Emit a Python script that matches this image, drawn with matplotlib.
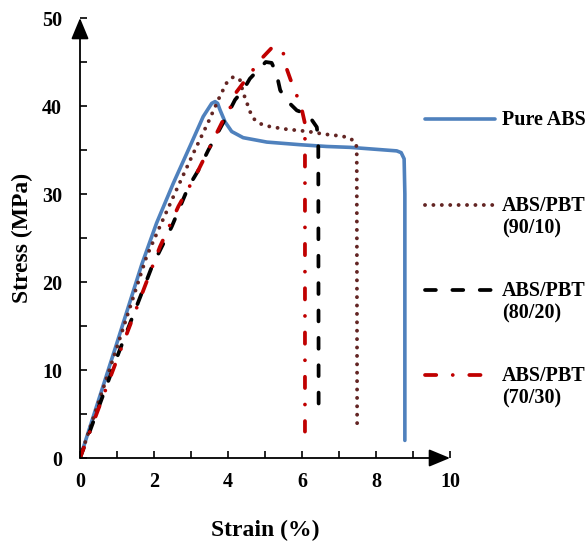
import matplotlib
matplotlib.use("Agg")
import matplotlib.pyplot as plt
from matplotlib.ticker import MultipleLocator

plt.rcParams['font.family'] = ['Liberation Serif', 'DejaVu Serif']
plt.rcParams['font.weight'] = 'bold'

# Tensile curves: strain (%) vs stress (MPa)
strain_abs = [0, 1.0, 1.67, 2.07, 2.52, 2.97, 3.33, 3.56, 3.65, 3.72, 3.78, 3.85, 3.92,
              4.1, 4.41, 5.05, 5.95, 6.67, 7.3, 8.56, 8.68, 8.76, 8.78, 8.78]
stress_abs = [0, 13.1, 22.0, 26.7, 31.2, 35.4, 38.8, 40.3, 40.5, 40.3, 39.6, 38.9, 38.2,
              37.1, 36.4, 35.9, 35.6, 35.4, 35.3, 34.9, 34.7, 34.0, 30.0, 2.0]

strain_9010 = [0, 1.0, 1.8, 2.2, 2.61, 3.06, 3.47, 3.78, 3.96, 4.14, 4.32, 4.41, 4.5, 4.58,
               4.68, 4.86, 5.09, 5.5, 5.95, 6.17, 6.6, 7.03, 7.28, 7.46, 7.48, 7.49]
stress_9010 = [0, 12.6, 22.9, 26.7, 30.5, 34.6, 38.2, 41.1, 42.6, 43.3, 43.0, 41.5, 40.5, 39.5,
               38.6, 38.0, 37.7, 37.4, 37.2, 37.1, 36.8, 36.6, 36.4, 35.8, 35.0, 3.9]

strain_8020 = [0, 1.04, 1.94, 2.48, 2.93, 3.2, 3.47, 3.96, 4.19, 4.41, 4.59, 4.86, 5.02,
               5.18, 5.31, 5.41, 5.57, 5.86, 6.17, 6.4, 6.44, 6.45]
stress_8020 = [0, 11.9, 21.7, 26.3, 30.8, 32.7, 35.0, 38.8, 40.7, 41.8, 43.1, 44.3, 45.0,
               44.9, 43.7, 41.8, 40.7, 39.5, 39.0, 37.6, 36.1, 4.7]

strain_7030 = [0, 1.0, 2.16, 2.66, 3.15, 3.74, 3.87, 4.05, 4.23, 4.41, 4.64, 4.91, 5.18, 5.3,
               5.49, 5.58, 5.69, 5.85, 5.99, 6.08, 6.08]
stress_7030 = [0, 11.2, 24.0, 28.6, 32.3, 37.3, 38.4, 39.7, 41.6, 42.6, 43.9, 45.4, 46.6, 46.8,
               46.1, 44.3, 43.0, 41.3, 39.7, 38.0, 3.0]

labels = ['Pure ABS', 'ABS/PBT\n(90/10)', 'ABS/PBT\n(80/20)', 'ABS/PBT\n(70/30)']

styles = [
    dict(color='#4F81BD', lw=2.6, solid_capstyle='round'),
    dict(color='#632523', lw=2.8, linestyle=(0, (0.01, 2.15)), dash_capstyle='round'),
    dict(color='#000000', lw=2.7, linestyle=(0, (2.9, 4.4)), dash_capstyle='round'),
    dict(color='#C00000', lw=2.7, linestyle=(0, (3.0, 4.4, 0.01, 4.4)), dash_capstyle='round'),
]

fig = plt.figure(figsize=(5.88, 5.41), dpi=100)
ax = fig.add_axes([80 / 588, 83 / 541, 370 / 588, 440 / 541])

series = [(strain_abs, stress_abs), (strain_9010, stress_9010),
          (strain_8020, stress_8020), (strain_7030, stress_7030)]
for (xs, ys), st in zip(series, styles):
    ax.plot(xs, ys, solid_joinstyle='round', **st)

ax.set_xlim(0, 10)
ax.set_ylim(0, 50)
ax.xaxis.set_major_locator(MultipleLocator(2))
ax.xaxis.set_minor_locator(MultipleLocator(1))
ax.yaxis.set_major_locator(MultipleLocator(10))
ax.yaxis.set_minor_locator(MultipleLocator(5))
ax.tick_params(which='both', direction='in', length=5, width=1.2, color='black')
ax.tick_params(axis='x', pad=10, labelsize=14.5)
ax.tick_params(axis='y', pad=13, labelsize=14.5)
for t in ax.get_xticklabels() + ax.get_yticklabels():
    t.set_fontweight('bold')

for s in ['top', 'right', 'bottom', 'left']:
    ax.spines[s].set_visible(False)

# axis lines with arrowheads
arrow = dict(arrowstyle='-|>,head_length=0.65,head_width=0.27', color='black', lw=1.3,
             shrinkA=0, shrinkB=0, mutation_scale=20)
ax.annotate('', xy=(1, 0), xytext=(0, 0), xycoords='axes fraction', arrowprops=arrow)
ax.annotate('', xy=(0, 1), xytext=(0, 0), xycoords='axes fraction', arrowprops=arrow)

ax.set_xlabel('Strain (%)', fontsize=17, fontweight='bold')
ax.set_ylabel('Stress (MPa)', fontsize=17, fontweight='bold')
ax.xaxis.set_label_coords(0.5, -0.14)
ax.yaxis.set_label_coords(-0.127, 0.5)

# legend drawn beside the plot
leg_y = [0.770, 0.575, 0.382, 0.189]
for lab, st, y in zip(labels, styles, leg_y):
    ax.plot([0.932, 1.122], [y, y], transform=ax.transAxes, clip_on=False, **st)
    ax.text(1.14, y + 0.021, lab, transform=ax.transAxes, va='top', ha='left',
            fontsize=14.5, fontweight='bold', linespacing=1.2)

fig.savefig('out.png', dpi=100)
